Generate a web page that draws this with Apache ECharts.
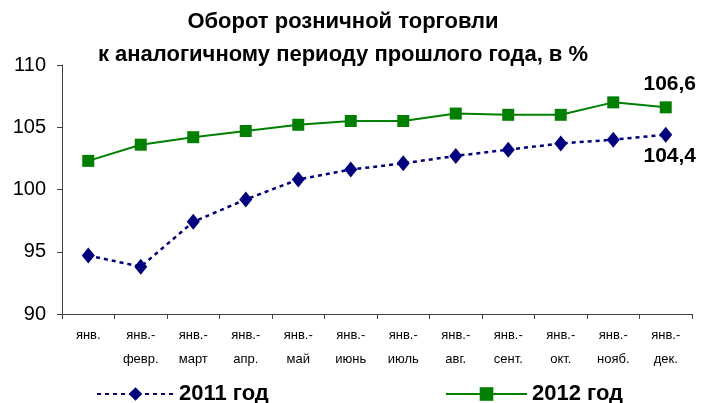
<!DOCTYPE html>
<html>
<head>
<meta charset="utf-8">
<script src="https://cdn.jsdelivr.net/npm/echarts@6/dist/echarts.min.js"></script>
<style>
  html, body { margin: 0; padding: 0; background: #fff; }
  #chart { width: 701px; height: 403px; }
</style>
</head>
<body>
<div id="chart"></div>
<script>
// categories (cumulative periods)
const categories = [
  'янв.', 'янв.-\nфевр.', 'янв.-\nмарт', 'янв.-\nапр.', 'янв.-\nмай', 'янв.-\nиюнь',
  'янв.-\nиюль', 'янв.-\nавг.', 'янв.-\nсент.', 'янв.-\nокт.', 'янв.-\nнояб.', 'янв.-\nдек.'
];
const values2011 = [94.7, 93.8, 97.4, 99.2, 100.8, 101.6, 102.1, 102.7, 103.2, 103.7, 104.0, 104.4];
const values2012 = [102.3, 103.6, 104.2, 104.7, 105.2, 105.5, 105.5, 106.1, 106.0, 106.0, 107.0, 106.6];
const seriesNames = ['2011 год', '2012 год'];
const titleLines = ['Оборот розничной торговли', 'к аналогичному периоду прошлого года, в %'];

const font = 'Arial, "Liberation Sans", sans-serif';
const fmt = p => String(p.value).replace('.', ',');

// only the last point carries a value label
function withLastLabel(values, position, distance) {
  return values.map((v, i) => i === values.length - 1
    ? { value: v, label: { show: true, position, distance, offset: [4, 0], formatter: fmt,
        fontFamily: font, fontSize: 21, fontWeight: 'bold', color: '#000' } }
    : v);
}

const chart = echarts.init(document.getElementById('chart'), null, { renderer: 'canvas' });

chart.setOption({
  animation: false,
  textStyle: { fontFamily: font },
  graphic: [{
    type: 'text',
    x: 343,
    y: 5,
    style: {
      text: titleLines.join('\n'),
      align: 'center',
      verticalAlign: 'top',
      font: 'bold 22px ' + font,
      lineHeight: 33,
      fill: '#000'
    }
  }],
  legend: [
    {
      data: [seriesNames[0]],
      left: 91, top: 378,
      itemWidth: 77, itemHeight: 17,
      textStyle: { fontSize: 22, fontWeight: 'bold', color: '#000' }
    },
    {
      data: [seriesNames[1]],
      left: 440, top: 378,
      itemWidth: 81, itemHeight: 17,
      textStyle: { fontSize: 22, fontWeight: 'bold', color: '#000' }
    }
  ],
  grid: { left: 62, right: 9, top: 65, bottom: 89, containLabel: false },
  xAxis: {
    type: 'category',
    data: categories,
    boundaryGap: true,
    axisLine: { lineStyle: { color: '#404040', width: 1 } },
    axisTick: { show: true, length: 5, alignWithLabel: false, lineStyle: { color: '#404040' } },
    axisLabel: { interval: 0, color: '#000', fontSize: 13, lineHeight: 24, margin: 9 },
    splitLine: { show: false }
  },
  yAxis: {
    type: 'value',
    min: 90, max: 110, interval: 5,
    axisLine: { show: true, lineStyle: { color: '#404040', width: 1 } },
    axisTick: { show: true, length: 5, lineStyle: { color: '#404040' } },
    axisLabel: { color: '#000', fontSize: 20, margin: 16 },
    splitLine: { show: false }
  },
  series: [
    {
      name: seriesNames[0],
      type: 'line',
      data: withLastLabel(values2011, 'bottom', 3),
      symbol: 'diamond',
      symbolSize: [13, 16],
      itemStyle: { color: '#000080' },
      lineStyle: { color: '#000080', width: 2.5, type: [4, 4] },
      z: 2
    },
    {
      name: seriesNames[1],
      type: 'line',
      data: withLastLabel(values2012, 'top', 7),
      symbol: 'rect',
      symbolSize: 12,
      itemStyle: { color: '#008000' },
      lineStyle: { color: '#008000', width: 2 },
      z: 3
    }
  ]
});
</script>
</body>
</html>
